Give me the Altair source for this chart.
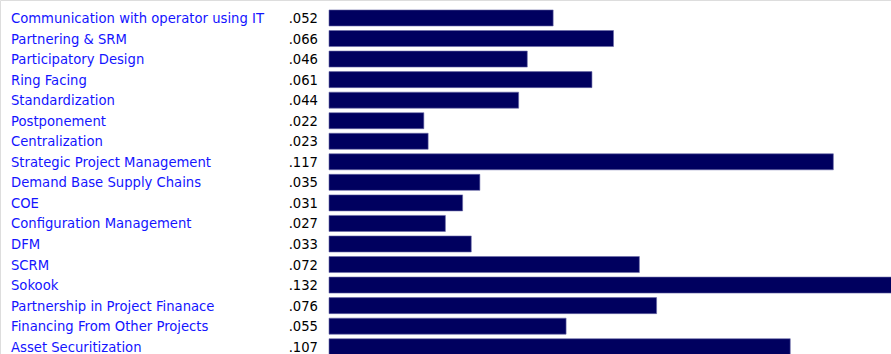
import altair as alt
import pandas as pd

labels = [
    "Communication with operator using IT",
    "Partnering & SRM",
    "Participatory Design",
    "Ring Facing",
    "Standardization",
    "Postponement",
    "Centralization",
    "Strategic Project Management",
    "Demand Base Supply Chains",
    "COE",
    "Configuration Management",
    "DFM",
    "SCRM",
    "Sokook",
    "Partnership in Project Finanace",
    "Financing From Other Projects",
    "Asset Securitization",
]
values = [0.052, 0.066, 0.046, 0.061, 0.044, 0.022, 0.023, 0.117, 0.035,
          0.031, 0.027, 0.033, 0.072, 0.132, 0.076, 0.055, 0.107]
value_text = [".052", ".066", ".046", ".061", ".044", ".022", ".023", ".117", ".035",
              ".031", ".027", ".033", ".072", ".132", ".076", ".055", ".107"]

df = pd.DataFrame({"label": labels, "value": values, "vtext": value_text})

yscale = alt.Scale(domain=labels, range=[7.7, 357], paddingInner=0.22, paddingOuter=0.11)
y = alt.Y("label:N", scale=yscale, axis=None, sort=labels)

bars = alt.Chart(df).mark_bar(color="#00005f", stroke="#6a6aa8", strokeWidth=0.6).encode(
    x=alt.X("value:Q", scale=alt.Scale(domain=[0, 0.132], range=[329, 898], nice=False, zero=True), axis=None),
    x2=alt.value(329),
    y=y,
)

names = alt.Chart(df).mark_text(
    align="left", baseline="middle", font="DejaVu Sans", fontSize=13.2, color="#1414ff", dy=1
).encode(x=alt.value(11), y=y, text="label:N")

nums = alt.Chart(df).mark_text(
    align="right", baseline="middle", font="DejaVu Sans", fontSize=13.2, color="#000000", dy=1
).encode(x=alt.value(318), y=y, text="vtext:N")

chart = alt.layer(bars, names, nums).properties(
    width=891, height=354, padding=0, autosize=alt.AutoSizeParams(type="none")
).configure_view(stroke=None).configure(background="white")

chart.save("out.html", embed_options={"renderer": "svg", "actions": False})
